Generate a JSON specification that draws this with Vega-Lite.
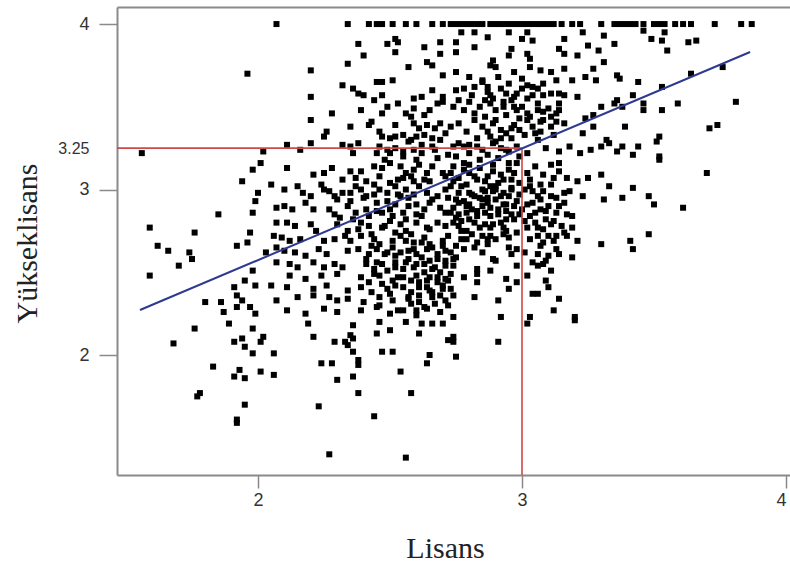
{
"$schema": "https://vega.github.io/schema/vega-lite/v6.json",
"width": 673, "height": 468,
"autosize": {"type": "none"},
"padding": {"left": 117, "top": 7, "right": 0, "bottom": 87},
"background": "white",
"config": {"view": {"stroke": null}},
"datasets": {
 "red": [{"x": 3, "x2": 3, "y": 1.275, "y2": 3.25}, {"x": 1.466, "x2": 3, "y": 3.25, "y2": 3.25}],
 "fit": [{"x": 1.553, "y": 2.272}, {"x": 3.864, "y": 3.831}],
 "pts": [
{"x":2.07,"y":4},{"x":2.34,"y":4},{"x":2.42,"y":4},{"x":2.45,"y":4},{"x":2.47,"y":4},{"x":2.51,"y":4},{"x":2.56,"y":4},{"x":2.6,"y":4},{"x":2.66,"y":4},{"x":2.7,"y":4},{"x":2.73,"y":4},{"x":2.75,"y":4},{"x":2.77,"y":4},{"x":2.79,"y":4},{"x":2.81,"y":4},{"x":2.83,"y":4},{"x":2.85,"y":4},{"x":2.88,"y":4},{"x":2.9,"y":4},{"x":2.92,"y":4},{"x":2.94,"y":4},{"x":2.96,"y":4},{"x":2.98,"y":4},{"x":3.0,"y":4},{"x":3.02,"y":4},{"x":3.04,"y":4},{"x":3.06,"y":4},{"x":3.08,"y":4},{"x":3.1,"y":4},{"x":3.12,"y":4},{"x":3.15,"y":4},{"x":3.19,"y":4},{"x":3.22,"y":4},{"x":3.3,"y":4},{"x":3.35,"y":4},{"x":3.37,"y":4},{"x":3.39,"y":4},{"x":3.41,"y":4},{"x":3.43,"y":4},{"x":3.46,"y":4},{"x":3.5,"y":4},{"x":3.52,"y":4},{"x":3.54,"y":4},{"x":3.58,"y":4},{"x":3.61,"y":4},{"x":3.64,"y":4},{"x":3.73,"y":4},{"x":3.83,"y":4},{"x":3.87,"y":4},
{"x":2.38,"y":3.88},{"x":2.4,"y":3.81},{"x":2.49,"y":3.88},{"x":2.52,"y":3.91},{"x":2.53,"y":3.89},{"x":2.52,"y":3.83},{"x":2.63,"y":3.86},{"x":2.69,"y":3.89},{"x":2.69,"y":3.82},{"x":2.57,"y":3.74},{"x":2.64,"y":3.77},{"x":2.66,"y":3.75},{"x":2.7,"y":3.69},{"x":2.34,"y":3.76},{"x":2.2,"y":3.72},
{"x":2.77,"y":3.95},{"x":2.82,"y":3.95},{"x":2.87,"y":3.92},{"x":2.95,"y":3.95},{"x":3.02,"y":3.95},{"x":3.04,"y":3.9},{"x":3.0,"y":3.91},{"x":3.16,"y":3.91},{"x":3.23,"y":3.95},{"x":3.31,"y":3.93},{"x":3.35,"y":3.88},{"x":2.75,"y":3.89},{"x":2.82,"y":3.86},{"x":2.75,"y":3.83},{"x":2.96,"y":3.85},{"x":2.95,"y":3.81},{"x":3.02,"y":3.82},{"x":3.03,"y":3.79},{"x":3.14,"y":3.85},{"x":3.16,"y":3.82},{"x":3.21,"y":3.81},{"x":3.25,"y":3.87},{"x":3.29,"y":3.84},{"x":3.31,"y":3.77},{"x":2.89,"y":3.78},{"x":2.88,"y":3.75},
{"x":3.49,"y":3.91},{"x":3.53,"y":3.9},{"x":3.54,"y":3.95},{"x":3.55,"y":3.84},{"x":3.63,"y":3.89},{"x":3.66,"y":3.9},{"x":3.46,"y":3.96},
{"x":1.96,"y":3.7},{"x":1.56,"y":3.22},{"x":2.02,"y":3.23},
{"x":2.32,"y":3.63},{"x":2.36,"y":3.61},{"x":2.38,"y":3.58},{"x":2.45,"y":3.65},{"x":2.47,"y":3.65},{"x":2.51,"y":3.66},{"x":2.2,"y":3.56},{"x":2.4,"y":3.57},{"x":2.44,"y":3.54},{"x":2.47,"y":3.57},{"x":2.66,"y":3.6},{"x":2.7,"y":3.56},{"x":2.59,"y":3.55},{"x":2.62,"y":3.56},{"x":2.49,"y":3.5},{"x":2.47,"y":3.46},{"x":2.53,"y":3.52},{"x":2.59,"y":3.49},{"x":2.28,"y":3.46},{"x":2.2,"y":3.42},{"x":2.39,"y":3.48},{"x":2.35,"y":3.38},{"x":2.26,"y":3.35},{"x":2.25,"y":3.32},{"x":2.42,"y":3.39},{"x":2.43,"y":3.41},{"x":2.56,"y":3.46},{"x":2.58,"y":3.44},{"x":2.63,"y":3.45},{"x":2.65,"y":3.48},{"x":2.68,"y":3.52},{"x":2.7,"y":3.53},{"x":2.46,"y":3.35},{"x":2.52,"y":3.39},{"x":2.47,"y":3.32},{"x":2.5,"y":3.31},{"x":2.59,"y":3.4},{"x":2.61,"y":3.37},{"x":2.64,"y":3.39},{"x":2.67,"y":3.37},{"x":2.69,"y":3.4},{"x":2.52,"y":3.32},{"x":2.55,"y":3.33},{"x":2.58,"y":3.3},{"x":2.6,"y":3.32},{"x":2.63,"y":3.33},{"x":2.66,"y":3.31},{"x":2.69,"y":3.3},{"x":2.71,"y":3.34},{"x":2.11,"y":3.27},{"x":2.16,"y":3.24},{"x":2.2,"y":3.28},{"x":2.32,"y":3.27},{"x":2.35,"y":3.26},{"x":2.38,"y":3.28},{"x":2.46,"y":3.26},{"x":2.49,"y":3.24},{"x":2.52,"y":3.25},{"x":2.55,"y":3.23},{"x":2.59,"y":3.24},{"x":2.62,"y":3.22},{"x":2.66,"y":3.26},{"x":2.36,"y":3.22},{"x":2.45,"y":3.22},{"x":2.5,"y":3.22},
{"x":2.75,"y":3.71},{"x":2.8,"y":3.68},{"x":2.85,"y":3.66},{"x":2.9,"y":3.74},{"x":2.97,"y":3.71},{"x":3.03,"y":3.74},{"x":3.07,"y":3.72},{"x":3.11,"y":3.71},{"x":3.16,"y":3.73},{"x":3.19,"y":3.66},{"x":3.24,"y":3.68},{"x":3.27,"y":3.73},{"x":3.28,"y":3.66},{"x":3.36,"y":3.69},
{"x":2.75,"y":3.6},{"x":2.78,"y":3.61},{"x":2.82,"y":3.62},{"x":2.85,"y":3.65},{"x":2.87,"y":3.59},{"x":2.88,"y":3.57},{"x":2.92,"y":3.61},{"x":2.94,"y":3.58},{"x":2.97,"y":3.56},{"x":3.0,"y":3.61},{"x":3.02,"y":3.63},{"x":3.04,"y":3.57},{"x":3.06,"y":3.61},{"x":3.08,"y":3.57},{"x":3.14,"y":3.58},{"x":3.16,"y":3.57},{"x":3.21,"y":3.56},{"x":3.3,"y":3.5},{"x":3.35,"y":3.52},{"x":3.36,"y":3.54},
{"x":2.74,"y":3.5},{"x":2.76,"y":3.54},{"x":2.8,"y":3.53},{"x":2.82,"y":3.46},{"x":2.84,"y":3.5},{"x":2.86,"y":3.54},{"x":2.88,"y":3.52},{"x":2.9,"y":3.48},{"x":2.93,"y":3.5},{"x":2.96,"y":3.54},{"x":2.98,"y":3.48},{"x":3.0,"y":3.5},{"x":3.02,"y":3.46},{"x":3.06,"y":3.48},{"x":3.08,"y":3.47},{"x":3.11,"y":3.44},{"x":3.13,"y":3.46},{"x":3.14,"y":3.48},{"x":3.24,"y":3.43},{"x":3.27,"y":3.45},
{"x":2.73,"y":3.38},{"x":2.76,"y":3.4},{"x":2.79,"y":3.35},{"x":2.82,"y":3.42},{"x":2.85,"y":3.38},{"x":2.87,"y":3.35},{"x":2.89,"y":3.4},{"x":2.92,"y":3.36},{"x":2.94,"y":3.34},{"x":2.97,"y":3.39},{"x":2.99,"y":3.36},{"x":3.02,"y":3.42},{"x":3.04,"y":3.38},{"x":3.07,"y":3.35},{"x":3.08,"y":3.42},{"x":3.11,"y":3.38},{"x":3.13,"y":3.41},{"x":3.16,"y":3.4},{"x":3.23,"y":3.34},{"x":3.27,"y":3.38},{"x":3.32,"y":3.3},
{"x":2.74,"y":3.26},{"x":2.78,"y":3.26},{"x":2.8,"y":3.27},{"x":2.83,"y":3.26},{"x":2.85,"y":3.24},{"x":2.89,"y":3.28},{"x":2.92,"y":3.25},{"x":2.95,"y":3.23},{"x":2.98,"y":3.26},{"x":3.02,"y":3.22},{"x":3.06,"y":3.3},{"x":3.09,"y":3.25},{"x":3.14,"y":3.23},{"x":3.18,"y":3.26},{"x":3.22,"y":3.22},{"x":3.26,"y":3.24},{"x":3.3,"y":3.26},{"x":3.33,"y":3.28},{"x":3.36,"y":3.23},
{"x":3.37,"y":3.67},{"x":3.44,"y":3.65},{"x":3.42,"y":3.57},{"x":3.38,"y":3.5},{"x":3.46,"y":3.52},{"x":3.46,"y":3.48},{"x":3.53,"y":3.62},{"x":3.53,"y":3.48},{"x":3.59,"y":3.52},{"x":3.64,"y":3.7},{"x":3.76,"y":3.74},{"x":3.81,"y":3.53},{"x":3.71,"y":3.37},{"x":3.74,"y":3.39},{"x":3.51,"y":3.29},{"x":3.52,"y":3.32},{"x":3.39,"y":3.38},{"x":3.38,"y":3.26},{"x":3.44,"y":3.26},{"x":3.42,"y":3.21},{"x":3.52,"y":3.2},
{"x":1.59,"y":2.77},{"x":1.62,"y":2.66},{"x":1.66,"y":2.63},{"x":1.59,"y":2.48},{"x":1.7,"y":2.54},{"x":1.74,"y":2.62},{"x":1.75,"y":2.58},{"x":1.76,"y":2.74},{"x":1.85,"y":2.85},{"x":1.94,"y":3.05},{"x":1.98,"y":3.12},{"x":2.01,"y":3.16},{"x":2.05,"y":3.03},{"x":2.0,"y":2.98},{"x":1.99,"y":2.93},{"x":1.98,"y":2.86},{"x":2.07,"y":2.89},{"x":2.07,"y":2.8},{"x":1.97,"y":2.74},{"x":1.96,"y":2.68},{"x":1.92,"y":2.66},{"x":2.03,"y":2.62},{"x":2.07,"y":2.65},{"x":2.06,"y":2.72},{"x":2.07,"y":2.56},{"x":1.98,"y":2.51},{"x":1.95,"y":2.45},{"x":1.99,"y":2.42},{"x":2.05,"y":2.42},{"x":1.91,"y":2.41},{"x":1.92,"y":2.36},{"x":1.94,"y":2.33},{"x":1.92,"y":2.29},{"x":1.97,"y":2.29},{"x":1.99,"y":2.25},{"x":1.8,"y":2.32},{"x":1.86,"y":2.32},{"x":1.87,"y":2.26},{"x":2.07,"y":2.33},
{"x":2.11,"y":3.13},{"x":2.21,"y":3.09},{"x":2.25,"y":3.1},{"x":2.28,"y":3.13},{"x":2.35,"y":3.11},{"x":2.39,"y":3.11},{"x":2.44,"y":3.14},{"x":2.47,"y":3.13},{"x":2.5,"y":3.16},{"x":2.54,"y":3.14},{"x":2.56,"y":3.1},{"x":2.59,"y":3.12},{"x":2.61,"y":3.15},{"x":2.64,"y":3.1},{"x":2.66,"y":3.14},{"x":2.7,"y":3.1},
{"x":2.1,"y":3.0},{"x":2.15,"y":3.02},{"x":2.17,"y":2.98},{"x":2.2,"y":2.96},{"x":2.24,"y":3.03},{"x":2.25,"y":3.0},{"x":2.27,"y":2.99},{"x":2.29,"y":2.96},{"x":2.3,"y":2.94},{"x":2.32,"y":2.98},{"x":2.35,"y":2.98},{"x":2.37,"y":3.02},{"x":2.39,"y":3.0},{"x":2.41,"y":2.96},{"x":2.44,"y":3.03},{"x":2.46,"y":3.0},{"x":2.49,"y":2.98},{"x":2.52,"y":3.02},{"x":2.54,"y":2.96},{"x":2.56,"y":3.0},{"x":2.59,"y":2.97},{"x":2.61,"y":3.02},{"x":2.64,"y":2.98},{"x":2.68,"y":2.96},{"x":2.71,"y":3.0},
{"x":2.1,"y":2.9},{"x":2.13,"y":2.88},{"x":2.18,"y":2.92},{"x":2.21,"y":2.88},{"x":2.27,"y":2.88},{"x":2.29,"y":2.85},{"x":2.34,"y":2.9},{"x":2.37,"y":2.86},{"x":2.41,"y":2.88},{"x":2.45,"y":2.92},{"x":2.47,"y":2.86},{"x":2.5,"y":2.88},{"x":2.52,"y":2.91},{"x":2.55,"y":2.86},{"x":2.57,"y":2.9},{"x":2.6,"y":2.85},{"x":2.63,"y":2.88},{"x":2.65,"y":2.92},{"x":2.69,"y":2.89},{"x":2.71,"y":2.86},
{"x":2.11,"y":2.8},{"x":2.14,"y":2.78},{"x":2.2,"y":2.79},{"x":2.22,"y":2.75},{"x":2.3,"y":2.79},{"x":2.34,"y":2.75},{"x":2.39,"y":2.8},{"x":2.42,"y":2.78},{"x":2.47,"y":2.77},{"x":2.5,"y":2.81},{"x":2.54,"y":2.79},{"x":2.56,"y":2.75},{"x":2.6,"y":2.8},{"x":2.64,"y":2.77},{"x":2.68,"y":2.8},{"x":2.71,"y":2.78},
{"x":2.09,"y":2.71},{"x":2.12,"y":2.69},{"x":2.16,"y":2.7},{"x":2.25,"y":2.69},{"x":2.29,"y":2.7},{"x":2.35,"y":2.69},{"x":2.39,"y":2.72},{"x":2.44,"y":2.7},{"x":2.46,"y":2.67},{"x":2.51,"y":2.69},{"x":2.54,"y":2.72},{"x":2.59,"y":2.68},{"x":2.63,"y":2.71},{"x":2.65,"y":2.67},{"x":2.7,"y":2.69},
{"x":2.1,"y":2.63},{"x":2.14,"y":2.62},{"x":2.18,"y":2.6},{"x":2.23,"y":2.64},{"x":2.26,"y":2.61},{"x":2.34,"y":2.63},{"x":2.38,"y":2.64},{"x":2.42,"y":2.61},{"x":2.45,"y":2.64},{"x":2.49,"y":2.62},{"x":2.52,"y":2.6},{"x":2.57,"y":2.63},{"x":2.6,"y":2.61},{"x":2.64,"y":2.64},{"x":2.68,"y":2.61},{"x":2.71,"y":2.63},
{"x":2.12,"y":2.55},{"x":2.15,"y":2.53},{"x":2.21,"y":2.56},{"x":2.25,"y":2.53},{"x":2.29,"y":2.55},{"x":2.32,"y":2.53},{"x":2.41,"y":2.55},{"x":2.44,"y":2.52},{"x":2.47,"y":2.55},{"x":2.52,"y":2.53},{"x":2.56,"y":2.56},{"x":2.59,"y":2.53},{"x":2.63,"y":2.55},{"x":2.66,"y":2.52},{"x":2.71,"y":2.57},
{"x":2.12,"y":2.48},{"x":2.18,"y":2.46},{"x":2.24,"y":2.48},{"x":2.3,"y":2.49},{"x":2.39,"y":2.47},{"x":2.42,"y":2.44},{"x":2.46,"y":2.48},{"x":2.51,"y":2.45},{"x":2.55,"y":2.47},{"x":2.6,"y":2.48},{"x":2.64,"y":2.45},{"x":2.68,"y":2.47},{"x":2.71,"y":2.46},
{"x":2.11,"y":2.41},{"x":2.21,"y":2.4},{"x":2.26,"y":2.42},{"x":2.34,"y":2.39},{"x":2.39,"y":2.41},{"x":2.43,"y":2.38},{"x":2.49,"y":2.4},{"x":2.52,"y":2.42},{"x":2.58,"y":2.38},{"x":2.61,"y":2.41},{"x":2.65,"y":2.39},{"x":2.7,"y":2.42},
{"x":2.15,"y":2.35},{"x":2.21,"y":2.36},{"x":2.27,"y":2.35},{"x":2.3,"y":2.33},{"x":2.34,"y":2.34},{"x":2.4,"y":2.32},{"x":2.46,"y":2.35},{"x":2.51,"y":2.33},{"x":2.57,"y":2.35},{"x":2.61,"y":2.32},{"x":2.66,"y":2.35},{"x":2.71,"y":2.33},
{"x":2.11,"y":2.27},{"x":2.18,"y":2.25},{"x":2.25,"y":2.28},{"x":2.3,"y":2.26},{"x":2.39,"y":2.27},{"x":2.45,"y":2.29},{"x":2.5,"y":2.25},{"x":2.55,"y":2.27},{"x":2.6,"y":2.24},{"x":2.64,"y":2.28},{"x":2.69,"y":2.26},
{"x":2.74,"y":3.14},{"x":2.78,"y":3.16},{"x":2.8,"y":3.1},{"x":2.84,"y":3.13},{"x":2.87,"y":3.08},{"x":2.89,"y":3.15},{"x":2.92,"y":3.09},{"x":2.95,"y":3.12},{"x":2.98,"y":3.16},{"x":3.02,"y":3.1},{"x":3.05,"y":3.14},{"x":3.08,"y":3.09},{"x":3.11,"y":3.15},{"x":3.14,"y":3.11},{"x":3.17,"y":3.07},{"x":3.21,"y":3.05},{"x":3.25,"y":3.07},{"x":3.3,"y":3.09},{"x":2.76,"y":3.07},{"x":2.96,"y":3.06},{"x":3.03,"y":3.06},{"x":3.14,"y":3.16},
{"x":2.73,"y":3.02},{"x":2.76,"y":2.98},{"x":2.79,"y":3.03},{"x":2.82,"y":2.96},{"x":2.85,"y":3.0},{"x":2.87,"y":2.95},{"x":2.9,"y":3.02},{"x":2.93,"y":2.98},{"x":2.96,"y":3.01},{"x":2.99,"y":2.97},{"x":3.03,"y":3.02},{"x":3.06,"y":2.96},{"x":3.08,"y":2.99},{"x":3.11,"y":3.03},{"x":3.13,"y":2.95},{"x":3.16,"y":2.98},{"x":3.18,"y":2.99},{"x":3.23,"y":2.96},{"x":3.33,"y":3.02},{"x":3.31,"y":2.94},{"x":2.75,"y":2.94},{"x":2.9,"y":2.94},
{"x":2.74,"y":2.89},{"x":2.76,"y":2.85},{"x":2.8,"y":2.91},{"x":2.83,"y":2.87},{"x":2.85,"y":2.9},{"x":2.88,"y":2.84},{"x":2.91,"y":2.88},{"x":2.94,"y":2.91},{"x":2.96,"y":2.85},{"x":3.03,"y":2.84},{"x":3.07,"y":2.88},{"x":3.09,"y":2.82},{"x":3.13,"y":2.86},{"x":3.19,"y":2.84},{"x":2.75,"y":2.83},{"x":2.8,"y":2.82},{"x":2.87,"y":2.92},{"x":2.94,"y":2.82},
{"x":2.76,"y":2.78},{"x":2.79,"y":2.75},{"x":2.82,"y":2.8},{"x":2.85,"y":2.72},{"x":2.88,"y":2.77},{"x":2.9,"y":2.7},{"x":2.94,"y":2.75},{"x":2.77,"y":2.7},{"x":2.83,"y":2.68},{"x":2.87,"y":2.67},{"x":3.06,"y":2.72},{"x":3.12,"y":2.69},{"x":3.13,"y":2.72},{"x":3.17,"y":2.72},{"x":3.19,"y":2.77},{"x":3.21,"y":2.69},{"x":3.11,"y":2.79},{"x":3.16,"y":2.74},
{"x":2.78,"y":2.64},{"x":2.82,"y":2.65},{"x":2.85,"y":2.62},{"x":2.95,"y":2.65},{"x":2.98,"y":2.64},{"x":3.07,"y":2.66},{"x":3.14,"y":2.61},{"x":3.19,"y":2.59},{"x":3.3,"y":2.67},{"x":2.75,"y":2.59},{"x":2.89,"y":2.58},{"x":2.96,"y":2.61},{"x":3.09,"y":2.57},
{"x":2.74,"y":2.54},{"x":2.83,"y":2.52},{"x":2.83,"y":2.49},{"x":2.88,"y":2.51},{"x":2.98,"y":2.54},{"x":3.06,"y":2.54},{"x":3.08,"y":2.55},{"x":3.02,"y":2.48},{"x":2.78,"y":2.47},{"x":2.94,"y":2.46},{"x":2.9,"y":2.57},{"x":3.11,"y":2.51},
{"x":2.73,"y":2.4},{"x":2.83,"y":2.44},{"x":2.98,"y":2.44},{"x":2.95,"y":2.4},{"x":3.09,"y":2.45},{"x":3.1,"y":2.41},{"x":2.82,"y":2.35},{"x":2.91,"y":2.33},{"x":3.04,"y":2.37},{"x":3.06,"y":2.37},{"x":3.14,"y":2.34},{"x":3.12,"y":2.27},{"x":3.2,"y":2.23},{"x":2.74,"y":2.23},{"x":2.92,"y":2.23},{"x":3.03,"y":2.23},
{"x":2.74,"y":3.05},{"x":2.78,"y":2.93},{"x":2.81,"y":2.88},{"x":2.84,"y":2.95},{"x":2.86,"y":2.79},{"x":2.89,"y":2.99},{"x":2.92,"y":2.8},{"x":2.95,"y":2.96},{"x":2.77,"y":2.81},{"x":2.8,"y":2.98},{"x":2.83,"y":3.06},{"x":2.86,"y":2.86},{"x":2.91,"y":3.04},{"x":2.97,"y":2.9},{"x":2.99,"y":3.04},{"x":2.73,"y":2.86},{"x":2.88,"y":2.72},{"x":2.79,"y":2.7},{"x":2.93,"y":2.73},{"x":2.75,"y":2.66},{"x":3.01,"y":3.0},{"x":3.04,"y":2.92},{"x":3.07,"y":3.03},{"x":3.1,"y":2.9},{"x":3.05,"y":2.8},{"x":3.0,"y":2.88},{"x":3.12,"y":3.07},{"x":3.16,"y":2.92},{"x":3.02,"y":2.77},{"x":3.08,"y":2.76},
{"x":3.7,"y":3.1},{"x":3.42,"y":3.01},{"x":3.38,"y":2.95},{"x":3.48,"y":2.96},{"x":3.5,"y":2.91},{"x":3.61,"y":2.89},{"x":3.48,"y":2.73},{"x":3.41,"y":2.69},{"x":3.42,"y":2.64},{"x":3.52,"y":3.18},
{"x":1.76,"y":2.16},{"x":1.68,"y":2.07},{"x":1.89,"y":2.19},{"x":1.98,"y":2.16},{"x":2.02,"y":2.11},{"x":2.01,"y":2.08},{"x":1.91,"y":2.08},{"x":1.94,"y":2.1},{"x":1.95,"y":2.05},{"x":1.98,"y":2.01},{"x":2.06,"y":2.01},{"x":1.83,"y":1.93},{"x":1.93,"y":1.91},{"x":1.91,"y":1.87},{"x":1.95,"y":1.86},{"x":2.01,"y":1.9},{"x":2.06,"y":1.88},{"x":1.78,"y":1.77},{"x":1.77,"y":1.75},{"x":1.95,"y":1.7},{"x":1.92,"y":1.61},{"x":1.92,"y":1.59},
{"x":2.19,"y":2.19},{"x":2.21,"y":2.11},{"x":2.29,"y":2.08},{"x":2.33,"y":2.08},{"x":2.35,"y":2.12},{"x":2.36,"y":2.18},{"x":2.36,"y":2.1},{"x":2.34,"y":2.06},{"x":2.36,"y":2.02},{"x":2.45,"y":2.13},{"x":2.5,"y":2.15},{"x":2.46,"y":2.2},{"x":2.56,"y":2.2},{"x":2.62,"y":2.19},{"x":2.66,"y":2.19},{"x":2.7,"y":2.19},{"x":2.61,"y":2.13},{"x":2.72,"y":2.09},{"x":2.47,"y":2.02},{"x":2.51,"y":2.02},{"x":2.65,"y":2.0},{"x":2.64,"y":1.95},{"x":2.38,"y":1.97},{"x":2.38,"y":1.94},{"x":2.24,"y":1.95},{"x":2.28,"y":1.95},{"x":2.54,"y":1.9},{"x":2.36,"y":1.87},{"x":2.3,"y":1.85},{"x":2.38,"y":1.77},{"x":2.58,"y":1.77},{"x":2.23,"y":1.69},{"x":2.44,"y":1.63},{"x":2.27,"y":1.4},{"x":2.56,"y":1.38},
{"x":3.02,"y":2.19},{"x":3.2,"y":2.21},{"x":2.74,"y":2.11},{"x":2.74,"y":2.08},{"x":2.91,"y":2.08},{"x":2.75,"y":1.99},
{"x":2.41,"y":2.58},{"x":2.43,"y":2.66},{"x":2.44,"y":2.49},{"x":2.45,"y":2.56},{"x":2.47,"y":2.43},{"x":2.48,"y":2.61},{"x":2.49,"y":2.51},{"x":2.5,"y":2.37},{"x":2.51,"y":2.65},{"x":2.52,"y":2.56},{"x":2.53,"y":2.47},{"x":2.54,"y":2.62},{"x":2.55,"y":2.41},{"x":2.55,"y":2.52},{"x":2.56,"y":2.69},{"x":2.57,"y":2.58},{"x":2.58,"y":2.45},{"x":2.58,"y":2.31},{"x":2.59,"y":2.64},{"x":2.6,"y":2.55},{"x":2.61,"y":2.44},{"x":2.61,"y":2.36},{"x":2.62,"y":2.59},{"x":2.62,"y":2.68},{"x":2.63,"y":2.5},{"x":2.63,"y":2.29},{"x":2.64,"y":2.41},{"x":2.65,"y":2.57},{"x":2.65,"y":2.47},{"x":2.66,"y":2.38},{"x":2.66,"y":2.65},{"x":2.67,"y":2.53},{"x":2.67,"y":2.31},{"x":2.68,"y":2.44},{"x":2.68,"y":2.58},{"x":2.69,"y":2.36},{"x":2.69,"y":2.5},{"x":2.7,"y":2.66},{"x":2.7,"y":2.4},{"x":2.71,"y":2.54},{"x":2.72,"y":2.45},{"x":2.72,"y":2.3},{"x":2.73,"y":2.62},{"x":2.73,"y":2.49},{"x":2.74,"y":2.36},{"x":2.74,"y":2.58},{"x":2.57,"y":2.34},{"x":2.53,"y":2.27},{"x":2.46,"y":2.3},{"x":2.6,"y":2.27},
{"x":2.72,"y":2.72},{"x":2.72,"y":2.95},{"x":2.73,"y":3.1},{"x":2.74,"y":2.8},{"x":2.75,"y":3.2},{"x":2.76,"y":2.92},{"x":2.77,"y":3.02},{"x":2.77,"y":2.75},{"x":2.78,"y":3.12},{"x":2.79,"y":2.86},{"x":2.8,"y":3.22},{"x":2.81,"y":2.97},{"x":2.81,"y":2.73},{"x":2.82,"y":3.08},{"x":2.83,"y":2.84},{"x":2.84,"y":3.18},{"x":2.84,"y":2.77},{"x":2.85,"y":2.94},{"x":2.86,"y":3.05},{"x":2.87,"y":2.7},{"x":2.87,"y":3.21},{"x":2.88,"y":2.89},{"x":2.89,"y":3.11},{"x":2.89,"y":2.79},{"x":2.9,"y":3.0},{"x":2.91,"y":2.85},{"x":2.91,"y":3.19},{"x":2.92,"y":2.96},{"x":2.93,"y":3.06},{"x":2.93,"y":2.77},{"x":2.94,"y":2.87},{"x":2.95,"y":3.16},{"x":2.95,"y":2.71},{"x":2.96,"y":3.0},{"x":2.97,"y":2.82},{"x":2.97,"y":3.1},{"x":2.98,"y":2.93},{"x":2.98,"y":2.74},{"x":2.99,"y":3.2},{"x":2.99,"y":2.85},{"x":2.76,"y":3.28},{"x":2.83,"y":3.31},{"x":2.9,"y":3.29},{"x":2.96,"y":3.31},{"x":2.79,"y":2.9},{"x":2.86,"y":2.99},{"x":2.93,"y":2.91},{"x":2.8,"y":3.15},{"x":2.88,"y":3.02},{"x":2.94,"y":3.24},
{"x":2.86,"y":3.44},{"x":2.87,"y":3.62},{"x":2.88,"y":3.32},{"x":2.89,"y":3.55},{"x":2.9,"y":3.42},{"x":2.91,"y":3.68},{"x":2.92,"y":3.31},{"x":2.93,"y":3.53},{"x":2.94,"y":3.45},{"x":2.95,"y":3.64},{"x":2.96,"y":3.37},{"x":2.97,"y":3.5},{"x":2.98,"y":3.58},{"x":2.99,"y":3.43},{"x":3.0,"y":3.67},{"x":3.01,"y":3.33},{"x":3.02,"y":3.55},{"x":3.03,"y":3.44},{"x":3.04,"y":3.62},{"x":3.05,"y":3.34},{"x":3.06,"y":3.52},{"x":3.07,"y":3.41},{"x":3.08,"y":3.64},{"x":3.1,"y":3.49},{"x":3.11,"y":3.58},{"x":3.12,"y":3.33},{"x":3.13,"y":3.66},{"x":3.14,"y":3.52},{"x":2.78,"y":3.48},{"x":2.81,"y":3.57},
{"x":2.31,"y":2.83},{"x":2.32,"y":3.06},{"x":2.33,"y":2.72},{"x":2.35,"y":2.93},{"x":2.36,"y":2.82},{"x":2.37,"y":3.07},{"x":2.38,"y":2.76},{"x":2.4,"y":2.95},{"x":2.41,"y":3.05},{"x":2.42,"y":2.84},{"x":2.43,"y":2.73},{"x":2.44,"y":2.97},{"x":2.45,"y":2.87},{"x":2.46,"y":3.08},{"x":2.48,"y":2.78},{"x":2.49,"y":2.93},{"x":2.5,"y":3.04},{"x":2.51,"y":2.84},{"x":2.52,"y":2.74},{"x":2.53,"y":2.97},{"x":2.55,"y":3.07},{"x":2.56,"y":2.82},{"x":2.57,"y":2.95},{"x":2.58,"y":2.73},{"x":2.59,"y":3.05},{"x":2.6,"y":2.91},{"x":2.62,"y":2.84},{"x":2.63,"y":3.06},{"x":2.65,"y":2.76},{"x":2.66,"y":2.94},
{"x":3.01,"y":2.62},{"x":3.02,"y":2.91},{"x":3.03,"y":2.7},{"x":3.04,"y":2.56},{"x":3.05,"y":2.86},{"x":3.06,"y":2.61},{"x":3.07,"y":2.94},{"x":3.08,"y":2.68},{"x":3.09,"y":2.87},{"x":3.1,"y":2.6},{"x":3.11,"y":2.96},{"x":3.12,"y":2.81},{"x":3.13,"y":2.64},{"x":3.14,"y":2.9},{"x":3.15,"y":2.78},{"x":3.04,"y":2.99},{"x":3.01,"y":2.81},{"x":3.06,"y":2.77},{"x":3.17,"y":2.85},{"x":3.1,"y":2.72},
{"x":2.55,"y":3.2},{"x":2.58,"y":3.08},{"x":2.62,"y":3.27},{"x":2.65,"y":3.05},{"x":2.68,"y":3.19},{"x":2.71,"y":3.08},{"x":2.53,"y":3.06},{"x":2.6,"y":3.18},{"x":2.67,"y":3.24},{"x":2.72,"y":3.21},{"x":2.48,"y":3.18},{"x":2.57,"y":3.29}
 ]
},
"resolve": {"axis": {"x": "independent", "y": "independent"}},
"layer": [
 {
  "data": {"name": "pts"},
  "mark": {"type": "point", "shape": "square", "filled": true, "color": "#000000", "size": 36, "opacity": 1},
  "encoding": {
   "x": {"field": "x", "type": "quantitative", "scale": {"domain": [1.466, 4.015], "nice": false, "zero": false},
    "axis": {"orient": "bottom", "values": [2, 3, 4], "format": "d", "grid": false, "domain": true, "domainColor": "#8a8a8a", "domainWidth": 2, "ticks": true, "tickColor": "#8a8a8a", "tickWidth": 1.5, "tickSize": 13, "labelPadding": 3, "labelFlush": 6, "labelFont": "Liberation Sans", "labelFontSize": 18, "labelColor": "#333333",
     "title": "Lisans", "titleFont": "Liberation Serif", "titleFontSize": 30, "titleFontWeight": "normal", "titleColor": "#222222", "titleX": 328, "titleY": 82, "titleBaseline": "alphabetic", "titleAlign": "center"}},
   "y": {"field": "y", "type": "quantitative", "scale": {"domain": [1.275, 4.103], "nice": false, "zero": false},
    "axis": {"orient": "left", "values": [2, 3, 4], "format": "d", "grid": false, "domain": true, "domainColor": "#8a8a8a", "domainWidth": 2, "ticks": true, "tickColor": "#8a8a8a", "tickWidth": 1.5, "tickSize": 18, "labelPadding": 10, "labelFont": "Liberation Sans", "labelFontSize": 18, "labelColor": "#333333",
     "title": "Yükseklisans", "titleFont": "Liberation Serif", "titleFontSize": 30, "titleFontWeight": "normal", "titleColor": "#222222", "titleX": -81, "titleY": 236, "titleAngle": -90, "titleBaseline": "alphabetic", "titleAlign": "center"}}
  }
 },
 {
  "data": {"name": "red"},
  "mark": {"type": "rule", "color": "#cc4a4a", "strokeWidth": 1.6},
  "encoding": {
   "x": {"field": "x", "type": "quantitative", "scale": {"domain": [1.466, 4.015], "nice": false, "zero": false}, "axis": {"orient": "top", "domain": true, "domainColor": "#8a8a8a", "domainWidth": 2, "ticks": false, "labels": false, "grid": false, "title": null}},
   "x2": {"field": "x2"},
   "y": {"field": "y", "type": "quantitative", "scale": {"domain": [1.275, 4.103], "nice": false, "zero": false}, "axis": {"orient": "left", "values": [3.25], "format": ".2f", "grid": false, "domain": false, "ticks": false, "labelPadding": 28, "labelFont": "Liberation Sans", "labelFontSize": 16, "labelColor": "#333333", "title": null}},
   "y2": {"field": "y2"}
  }
 },
 {
  "data": {"name": "fit"},
  "mark": {"type": "line", "color": "#2e3a8f", "strokeWidth": 2},
  "encoding": {
   "x": {"field": "x", "type": "quantitative", "scale": {"domain": [1.466, 4.015], "nice": false, "zero": false}, "axis": null},
   "y": {"field": "y", "type": "quantitative", "scale": {"domain": [1.275, 4.103], "nice": false, "zero": false}, "axis": null}
  }
 }
]
}
